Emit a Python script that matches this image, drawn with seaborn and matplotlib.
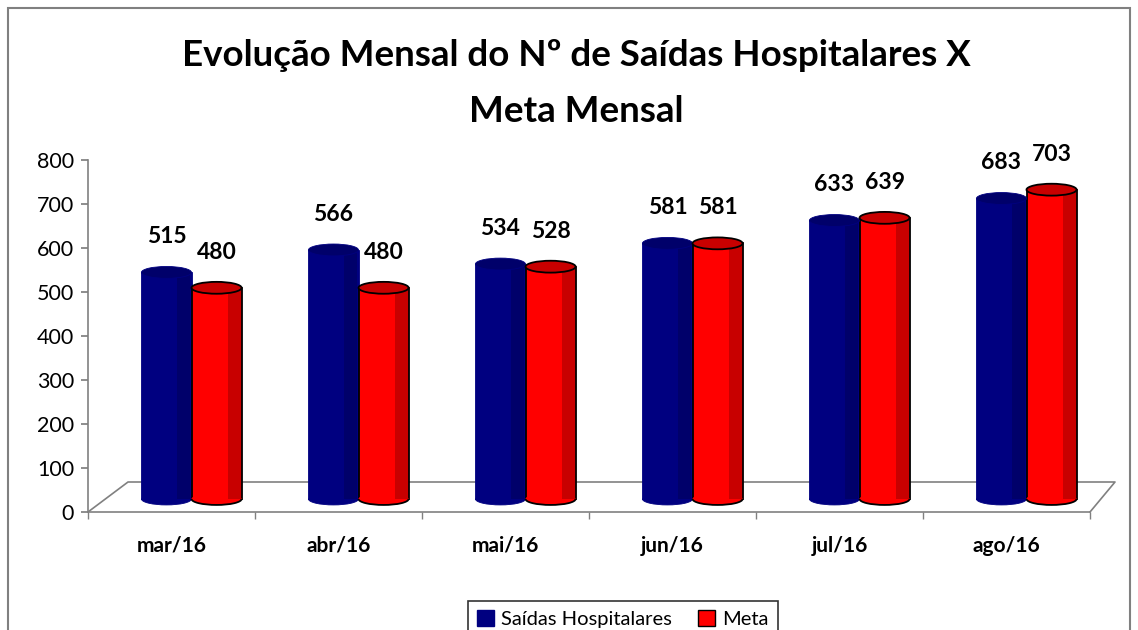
import matplotlib
matplotlib.use("Agg")
import matplotlib.pyplot as plt
import matplotlib.patches as mpatches
from matplotlib.lines import Line2D
from matplotlib.transforms import ScaledTranslation
import seaborn as sns
import pandas as pd

months = ["mar/16", "abr/16", "mai/16", "jun/16", "jul/16", "ago/16"]
saidas = [515, 566, 534, 581, 633, 683]
meta = [480, 480, 528, 581, 639, 703]
series_names = ["Saídas Hospitalares", "Meta"]
yticks = [0, 100, 200, 300, 400, 500, 600, 700, 800]

df = pd.DataFrame({
    "mes": months * 2,
    "valor": saidas + meta,
    "serie": [series_names[0]] * len(months) + [series_names[1]] * len(months),
})

sns.set_theme(style="white")
plt.rcParams["font.family"] = ["Lato", "DejaVu Sans"]
plt.rcParams["text.color"] = "black"
plt.rcParams["xtick.labelcolor"] = "black"
plt.rcParams["ytick.labelcolor"] = "black"

W, H = 1138, 630
fig = plt.figure(figsize=(W / 100, H / 100), dpi=100)
ax = fig.add_axes([88 / W, 1 - 512 / H, (1090 - 88) / W, (512 - 160) / H])

blue = "#000080"
blue_dark = "#00006A"
red = "#FF0000"
red_dark = "#C80000"
sns.barplot(data=df, x="mes", y="valor", hue="serie", order=months,
            hue_order=series_names, palette=[blue, red], width=0.6,
            saturation=1, ax=ax, legend=False)

# pseudo-3D depth offset (pixels -> inches)
trans = ax.transData + ScaledTranslation(20 / 100, 13 / 100, fig.dpi_scale_trans)
cap_h = 27  # ellipse height in data units (~12 px)

for cont, name in zip(ax.containers, series_names):
    is_meta = name == "Meta"
    edge = "black" if is_meta else blue
    dark = red_dark if is_meta else blue_dark
    face = red if is_meta else blue
    lw = 1.3 if is_meta else 0.6
    for p in cont:
        p.set_transform(trans)
        p.set_edgecolor(edge)
        p.set_linewidth(lw)
        x, w, h = p.get_x(), p.get_width(), p.get_height()
        z = p.get_zorder()
        # darker right-side shading
        ax.add_patch(mpatches.Rectangle((x + 0.72 * w, 0), 0.26 * w, h,
                                        facecolor=dark, edgecolor="none",
                                        transform=trans, zorder=z + 0.1))
        # rounded bottom
        ax.add_patch(mpatches.Ellipse((x + w / 2, 0), w, cap_h, facecolor=face,
                                      edgecolor="none", transform=trans, zorder=z + 0.05))
        ax.add_patch(mpatches.Arc((x + w / 2, 0), w, cap_h, theta1=180, theta2=360,
                                  edgecolor=edge, lw=lw, transform=trans, zorder=z + 0.2))
        # top cap
        ax.add_patch(mpatches.Ellipse((x + w / 2, h), w, cap_h, facecolor=dark,
                                      edgecolor=edge, lw=lw, transform=trans, zorder=z + 0.3))
    labels = ax.bar_label(cont, fmt="%d", padding=18, fontsize=16.5, fontweight="bold",
                          color="black")
    for t in labels:
        t.xyann = (t.xyann[0] + 20 * 0.72, t.xyann[1] + 13 * 0.72)

ax.set_xlim(-0.5, len(months) - 0.5)
ax.set_ylim(0, 800)
ax.set_yticks(yticks)
ax.set_yticklabels([str(v) for v in yticks], fontsize=15.5)
ax.set_xlabel("")
ax.set_ylabel("")
ax.set_xticks(range(len(months)))
ax.set_xticklabels(months, fontsize=15, fontweight="bold")
ax.set_xticks([i - 0.5 for i in range(len(months) + 1)], minor=True)
ax.tick_params(axis="x", which="major", length=0, pad=17)
ax.tick_params(axis="x", which="minor", length=5, color="#808080", direction="out", bottom=True)
ax.tick_params(axis="y", length=5, color="#808080", direction="out", left=True, pad=5)

for s in ["top", "right"]:
    ax.spines[s].set_visible(False)
for s in ["left", "bottom"]:
    ax.spines[s].set_color("#808080")
    ax.spines[s].set_linewidth(1.2)

# 3D-like floor outline (axes fraction coordinates)
dx = 40 / (1090 - 88)
dy = 30 / (512 - 160)
dxr = 25 / (1090 - 88)
floor = Line2D([0, dx, 1 + dxr, 1], [0, dy, dy, 0], transform=ax.transAxes,
               color="#808080", lw=1.2, clip_on=False, zorder=0)
ax.add_line(floor)

# title
fig.text(576 / W, 1 - 55 / H, "Evolução Mensal do Nº de Saídas Hospitalares X",
         ha="center", va="center", fontsize=26.5, fontweight="bold", color="black")
fig.text(576 / W, 1 - 111 / H, "Meta Mensal",
         ha="center", va="center", fontsize=26.5, fontweight="bold", color="black")

# chart border
border = mpatches.Rectangle((8 / W, -0.05), (1130 - 8) / W, 1 - 8 / H + 0.05,
                            transform=fig.transFigure, fill=False,
                            edgecolor="#808080", lw=1.5)
fig.patches.append(border)

# legend
handles = [mpatches.Patch(facecolor=blue, edgecolor=blue),
           mpatches.Patch(facecolor=red, edgecolor="black")]
leg = fig.legend(handles, series_names, loc="upper center",
                 bbox_to_anchor=(623 / W, 1 - 591 / H), ncol=2, frameon=True,
                 fancybox=False, edgecolor="black", fontsize=14.5,
                 handlelength=0.85, handleheight=0.85, handletextpad=0.35,
                 columnspacing=1.3, borderpad=0.45, labelcolor="black")
leg.get_frame().set_linewidth(1.2)

fig.savefig("out.png", dpi=100)
